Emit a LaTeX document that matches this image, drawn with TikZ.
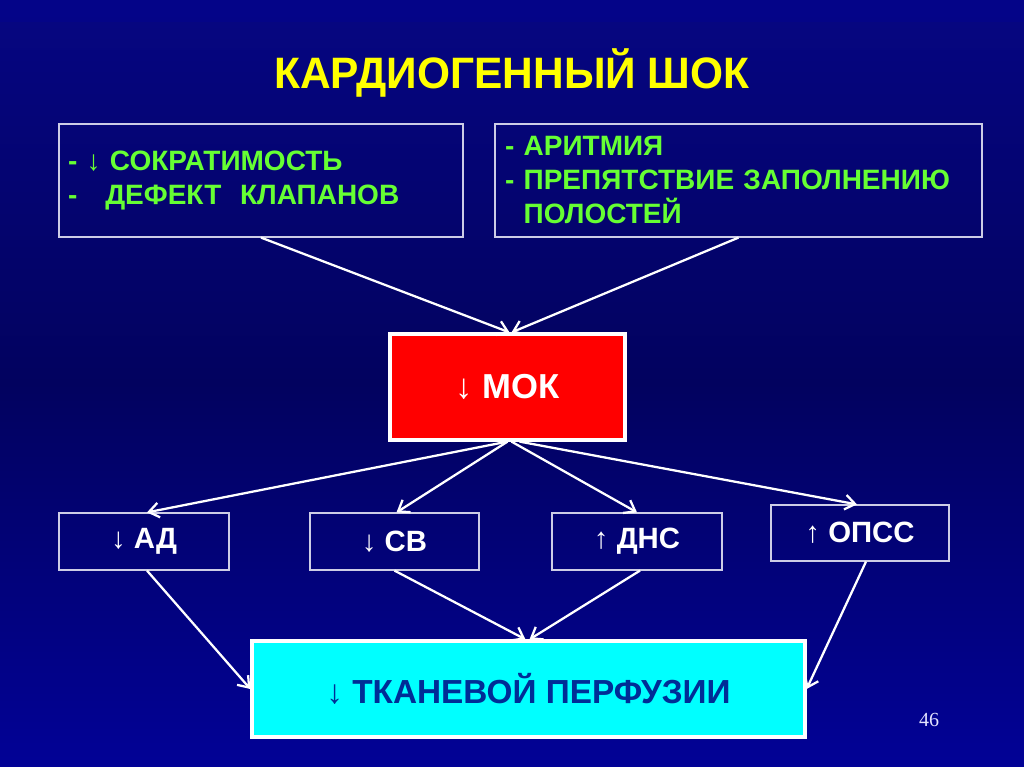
\documentclass[tikz,border=0pt]{standalone}
\usepackage{fontspec}
\setmainfont{Liberation Sans}
\newfontfamily\numfont{Liberation Serif}
\usetikzlibrary{arrows.meta}
\definecolor{bgtop}{RGB}{6,6,130}
\definecolor{bgmid}{RGB}{2,2,95}
\definecolor{bgbot}{RGB}{2,2,150}
\definecolor{txtgreen}{RGB}{102,255,51}
\definecolor{titleyellow}{RGB}{255,255,0}
\definecolor{mokred}{RGB}{255,0,0}
\definecolor{perfcyan}{RGB}{0,255,255}
\definecolor{perftext}{RGB}{0,45,150}
\definecolor{thinborder}{RGB}{205,205,230}
\begin{document}
\begin{tikzpicture}[x=0.75pt,y=-0.75pt,
  box/.style={draw=thinborder, line width=0.9pt, inner sep=0pt},
  listbox/.style={box, align=left, font=\bfseries\fontsize{21pt}{25.5pt}\selectfont, text=txtgreen},
  smallbox/.style={box, minimum width=#1*0.75pt, minimum height=57*0.75pt, font=\bfseries\fontsize{22pt}{26pt}\selectfont, text=white},
  conn/.style={draw=white, line width=1.7pt, -{Straight Barb[length=7.5pt,width=11pt,line width=1.7pt]}}
]
\useasboundingbox (0,0) rectangle (1024,767);
\shade[top color=bgtop, bottom color=bgbot, middle color=bgmid] (0,0) rectangle (1024,767);
\fill[bgbot, opacity=0.35] (0,0) rectangle (1024,22);

\node[text=titleyellow, font=\bfseries\fontsize{33pt}{38pt}\selectfont] (title) at (512,73) {\scalebox{0.965}[1]{КАРДИОГЕННЫЙ ШОК}};

\node[listbox, minimum width=404*0.75pt, minimum height=113*0.75pt, text width=386*0.75pt] (b1) at (261,180.5)
  {- ↓ СОКРАТИМОСТЬ\\ -\ \ \ ДЕФЕКТ\ \ КЛАПАНОВ};
\node[listbox, minimum width=487*0.75pt, minimum height=113*0.75pt, text width=467*0.75pt] (b2) at (738.5,180.5)
  {- АРИТМИЯ\\ - ПРЕПЯТСТВИЕ ЗАПОЛНЕНИЮ\\ \phantom{- }ПОЛОСТЕЙ};

\node[draw=white, line width=2.4pt, fill=mokred, minimum width=235*0.75pt, minimum height=106*0.75pt, text=white, font=\bfseries\fontsize{26pt}{30pt}\selectfont] (mok) at (507.5,387) {↓ МОК};

\node[smallbox=170] (ad) at (144,541.5) {↓ АД};
\node[smallbox=169] (sv) at (394.5,541.5) {↓ СВ};
\node[smallbox=170] (dns) at (637,541.5) {↑ ДНС};
\node[smallbox=178, minimum height=56*0.75pt] (opss) at (860,533) {↑ ОПСС};

\node[draw=white, line width=2.4pt, fill=perfcyan, minimum width=553*0.75pt, minimum height=96*0.75pt, text=perftext, font=\bfseries\fontsize{25pt}{30pt}\selectfont] (perf) at (528.5,689) {↓ ТКАНЕВОЙ ПЕРФУЗИИ};

\node[text=white!90!blue, font=\numfont\fontsize{15pt}{18pt}\selectfont] (num) at (929,720) {46};

\draw[conn] (b1.south) -- ([xshift=2*0.75pt]mok.north);
\draw[conn] (b2.south) -- ([xshift=4*0.75pt]mok.north);
\draw[conn] (mok.south) -- ([xshift=3*0.75pt]ad.north);
\draw[conn] (mok.south) -- ([xshift=2*0.75pt]sv.north);
\draw[conn] ([xshift=4*0.75pt]mok.south) -- (dns.north);
\draw[conn] ([xshift=12*0.75pt]mok.south) -- ([xshift=-3*0.75pt]opss.north);
\draw[conn] ([xshift=3*0.75pt]ad.south) -- (perf.west);
\draw[conn] (sv.south) -- ([xshift=-3*0.75pt]perf.north);
\draw[conn] ([xshift=3*0.75pt]dns.south) -- ([xshift=1*0.75pt]perf.north);
\draw[conn] ([xshift=6*0.75pt]opss.south) -- (perf.east);
\end{tikzpicture}
\end{document}
